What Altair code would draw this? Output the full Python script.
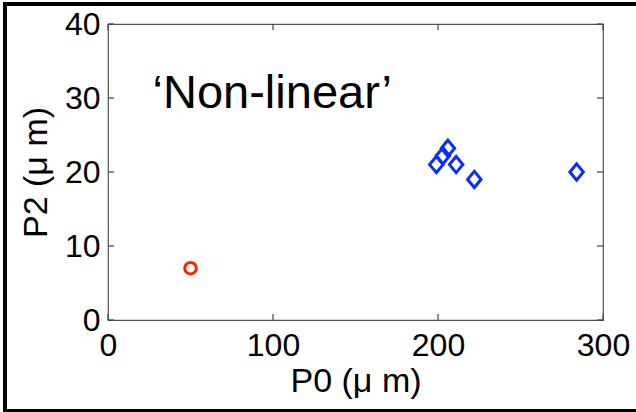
import altair as alt
import pandas as pd

# data
red_x = [50]
red_y = [7]
blue_x = [199, 203, 206, 211, 222, 284]
blue_y = [21, 22.2, 23.2, 21, 19, 20]
x_ticks = [0, 100, 200, 300]
y_ticks = [0, 10, 20, 30, 40]

W, H = 495, 296
FONT = "Liberation Sans"

red_df = pd.DataFrame({"x": red_x, "y": red_y})
blue_df = pd.DataFrame({"x": blue_x, "y": blue_y})
xt_df = pd.DataFrame({"x": x_ticks})
yt_df = pd.DataFrame({"y": y_ticks})
lab_df = pd.DataFrame({"x": [27], "y": [28.6], "t": ["\u2018Non-linear\u2019"]})

xs = alt.Scale(domain=[0, 300], nice=False, zero=False)
ys = alt.Scale(domain=[0, 40], nice=False, zero=False)

xaxis = alt.Axis(values=x_ticks, title="P0 (\u03bc m)", ticks=False, domain=False, grid=False,
                 labelFont=FONT, labelFontSize=32, labelColor="black", labelPadding=10,
                 titleFont=FONT, titleFontSize=34, titleFontWeight="normal", titleColor="black",
                 titlePadding=3, labelFlush=False)
yaxis = alt.Axis(values=y_ticks, title="P2 (\u03bc m)", ticks=False, domain=False, grid=False,
                 labelFont=FONT, labelFontSize=32, labelColor="black", labelPadding=8,
                 titleFont=FONT, titleFontSize=34, titleFontWeight="normal", titleColor="black",
                 titlePadding=11, labelFlush=False)

base_x = alt.X("x:Q", scale=xs, axis=xaxis)
base_y = alt.Y("y:Q", scale=ys, axis=yaxis)

red = alt.Chart(red_df).mark_point(shape="circle", filled=False, size=135, strokeWidth=3,
                                   color="#ff2200", opacity=1).encode(x=base_x, y=base_y)
blue = alt.Chart(blue_df).mark_point(shape="M0,-1.15L0.95,0L0,1.15L-0.95,0Z", filled=False,
                                     size=200, strokeWidth=3, color="#0a2cff",
                                     opacity=1).encode(x=alt.X("x:Q", scale=xs), y=alt.Y("y:Q", scale=ys))

text = alt.Chart(lab_df).mark_text(font=FONT, fontSize=47, align="left", baseline="alphabetic",
                                   color="black").encode(x=alt.X("x:Q", scale=xs),
                                                         y=alt.Y("y:Q", scale=ys), text="t:N")

tick_col = "#444444"
xt_bot = alt.Chart(xt_df).mark_rule(color=tick_col, strokeWidth=1.2).encode(
    x=alt.X("x:Q", scale=xs), y=alt.value(H), y2=alt.value(H - 6))
xt_top = alt.Chart(xt_df).mark_rule(color=tick_col, strokeWidth=1.2).encode(
    x=alt.X("x:Q", scale=xs), y=alt.value(0), y2=alt.value(6))
yt_left = alt.Chart(yt_df).mark_rule(color=tick_col, strokeWidth=1.2).encode(
    y=alt.Y("y:Q", scale=ys), x=alt.value(0), x2=alt.value(6))
yt_right = alt.Chart(yt_df).mark_rule(color=tick_col, strokeWidth=1.2).encode(
    y=alt.Y("y:Q", scale=ys), x=alt.value(W), x2=alt.value(W - 6))

# outer frame of the picture (decoration)
frame_df = pd.DataFrame({"k": [0]})
left_b = alt.Chart(frame_df).mark_rule(color="black", strokeWidth=4, clip=False).encode(
    x=alt.value(-103), y=alt.value(-22), y2=alt.value(388))
top_b = alt.Chart(frame_df).mark_rule(color="black", strokeWidth=4, clip=False).encode(
    x=alt.value(-105), x2=alt.value(528), y=alt.value(-20))
bot_b = alt.Chart(frame_df).mark_rule(color="black", strokeWidth=3, clip=False).encode(
    x=alt.value(-105), x2=alt.value(528), y=alt.value(386.5))

chart = alt.layer(red, blue, text, xt_bot, xt_top, yt_left, yt_right, left_b, top_b, bot_b).properties(
    width=W, height=H,
    autosize=alt.AutoSizeParams(type="none"),
    padding={"left": 108, "top": 24, "right": 33, "bottom": 92},
    background="white",
).configure_view(stroke="#555555", strokeWidth=1.2)

chart.save("out.html", embed_options={"renderer": "svg", "actions": False})
